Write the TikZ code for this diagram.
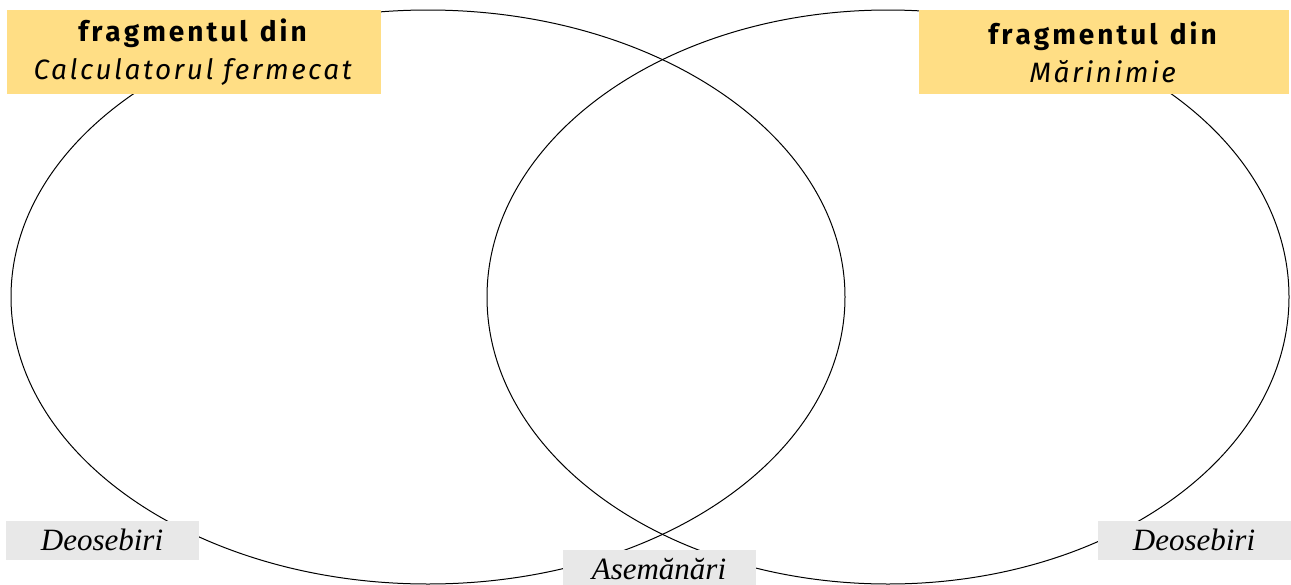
\documentclass[tikz,border=0pt]{standalone}
\usepackage{fontspec}
\setmainfont{Liberation Serif}
\newfontfamily\headfont[LetterSpace=9]{Fira Sans}
\makeatletter
\newcommand\spaced[1]{\@tfor\ch:=#1\do{\ch\kern3pt}}
\makeatother
\definecolor{headyellow}{HTML}{FFDE85}
\definecolor{taggray}{HTML}{E8E8E8}
\begin{document}
\begin{tikzpicture}[x=1pt,y=-1pt,line width=1pt,
    title/.style={fill=headyellow,inner sep=0pt,minimum height=84pt,align=center,
      font=\headfont\fontsize{28}{38}\selectfont},
    tag/.style={fill=taggray,inner sep=0pt,minimum width=193pt,minimum height=39pt,
      font=\itshape\fontsize{31}{31}\selectfont}]
   \useasboundingbox (0,0) rectangle (1291,584);
   % the two sets
   \draw (428,297) ellipse [x radius=417, y radius=287];
   \draw (888,297) ellipse [x radius=401, y radius=287];
   % headings
   \node[title,minimum width=374pt] (left) at (194,52)
     {\textbf{\spaced{fragmentul}\ \spaced{din}}\\\textit{Calculatorul fermecat}};
   \node[title,minimum width=370pt] (right) at (1104,52)
     {\textbf{\spaced{fragmentul}\ \spaced{din}}\\\textit{Mărinimie}};
   % labels under the sets
   \foreach \n/\x/\y/\t in
     { ldiff/102/540/Deosebiri,
       same/659/569/Asemănări,
       rdiff/1194/540/Deosebiri
     }
     \node[tag] (\n) at (\x,\y) {\t};
\end{tikzpicture}
\end{document}
